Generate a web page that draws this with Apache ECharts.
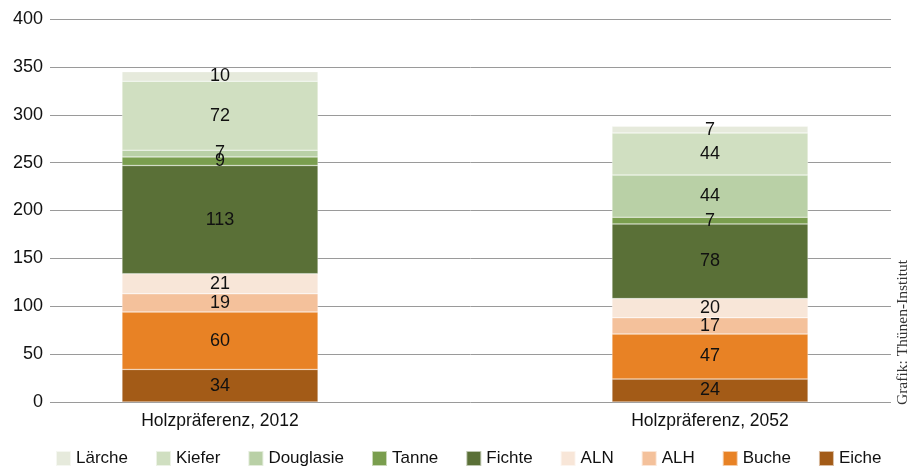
<!DOCTYPE html>
<html>
<head>
<meta charset="utf-8">
<script src="https://cdn.jsdelivr.net/npm/echarts@6/dist/echarts.min.js"></script>
<style>
  html, body { margin: 0; padding: 0; background: #fff; }
  #chart { width: 918px; height: 468px; }
</style>
</head>
<body>
<div id="chart"></div>
<script>
// Kategorien und Werte (von unten nach oben gestapelt)
const categories = ['Holzpräferenz, 2012', 'Holzpräferenz, 2052']
const speciesNames = ['Eiche', 'Buche', 'ALH', 'ALN', 'Fichte', 'Tanne', 'Douglasie', 'Kiefer', 'Lärche']
const eiche = [34, 24]
const buche = [60, 47]
const alh = [19, 17]
const aln = [21, 20]
const fichte = [113, 78]
const tanne = [9, 7]
const douglasie = [7, 44]
const kiefer = [72, 44]
const laerche = [10, 7]
const legendOrder = ['Lärche', 'Kiefer', 'Douglasie', 'Tanne', 'Fichte', 'ALN', 'ALH', 'Buche', 'Eiche']
const yTicks = [0, 50, 100, 150, 200, 250, 300, 350, 400]

const values = [eiche, buche, alh, aln, fichte, tanne, douglasie, kiefer, laerche]
const colors = ['#a35b17', '#e88225', '#f4c19b', '#f8e6d8', '#5a7037', '#7a9e4e', '#b9d0a6', '#d0dfc1', '#e6eadc']

const font = "'Liberation Sans', Arial, sans-serif"

const chart = echarts.init(document.getElementById('chart'))
chart.setOption({
  animation: false,
  textStyle: { fontFamily: font },
  legend: {
    data: legendOrder,
    left: 50,
    top: 445,
    itemWidth: 15,
    itemHeight: 15,
    itemGap: 27,
    icon: 'rect',
    textStyle: { fontSize: 17, color: '#111', fontFamily: font }
  },
  grid: [
    // Raster + y-Achse
    { left: 50, right: 27, top: 19, bottom: 66 },
    // Balken: Kategorien sitzen auf den Rändern dieses Rasters
    { left: 220, right: 208, top: 19, bottom: 66 }
  ],
  xAxis: [
    { gridIndex: 0, type: 'category', data: categories, show: false },
    {
      gridIndex: 1,
      type: 'category',
      data: categories,
      boundaryGap: false,
      axisLine: { show: false },
      axisTick: { show: false },
      axisLabel: { fontSize: 17.5, color: '#111', margin: 10, fontFamily: font }
    }
  ],
  yAxis: [
    {
      gridIndex: 0,
      type: 'value',
      min: yTicks[0],
      max: yTicks[yTicks.length - 1],
      interval: 50,
      axisLine: { show: false },
      axisTick: { show: false },
      axisLabel: { fontSize: 18, color: '#111', margin: 7, fontFamily: font },
      splitLine: { lineStyle: { color: '#9a9a9a', width: 1 } }
    },
    {
      gridIndex: 1,
      type: 'value',
      min: 0,
      max: 400,
      show: false
    }
  ],
  series: speciesNames.map((name, i) => ({
    name: name,
    type: 'bar',
    stack: 'total',
    xAxisIndex: 1,
    yAxisIndex: 1,
    barWidth: 196,
    clip: false,
    itemStyle: { color: colors[i], borderColor: 'rgba(255,255,255,0.6)', borderWidth: 0.5 },
    label: {
      show: true,
      position: 'inside',
      fontSize: 18,
      color: '#111',
      fontFamily: font
    },
    data: values[i]
  })),
  graphic: [
    {
      type: 'text',
      x: 903,
      y: 405,
      rotation: Math.PI / 2,
      style: {
        text: 'Grafik: Thünen-Institut',
        fontFamily: "'Liberation Serif', 'DejaVu Serif', serif",
        fontSize: 15.5,
        fill: '#333',
        textVerticalAlign: 'middle'
      }
    }
  ]
})
</script>
</body>
</html>
